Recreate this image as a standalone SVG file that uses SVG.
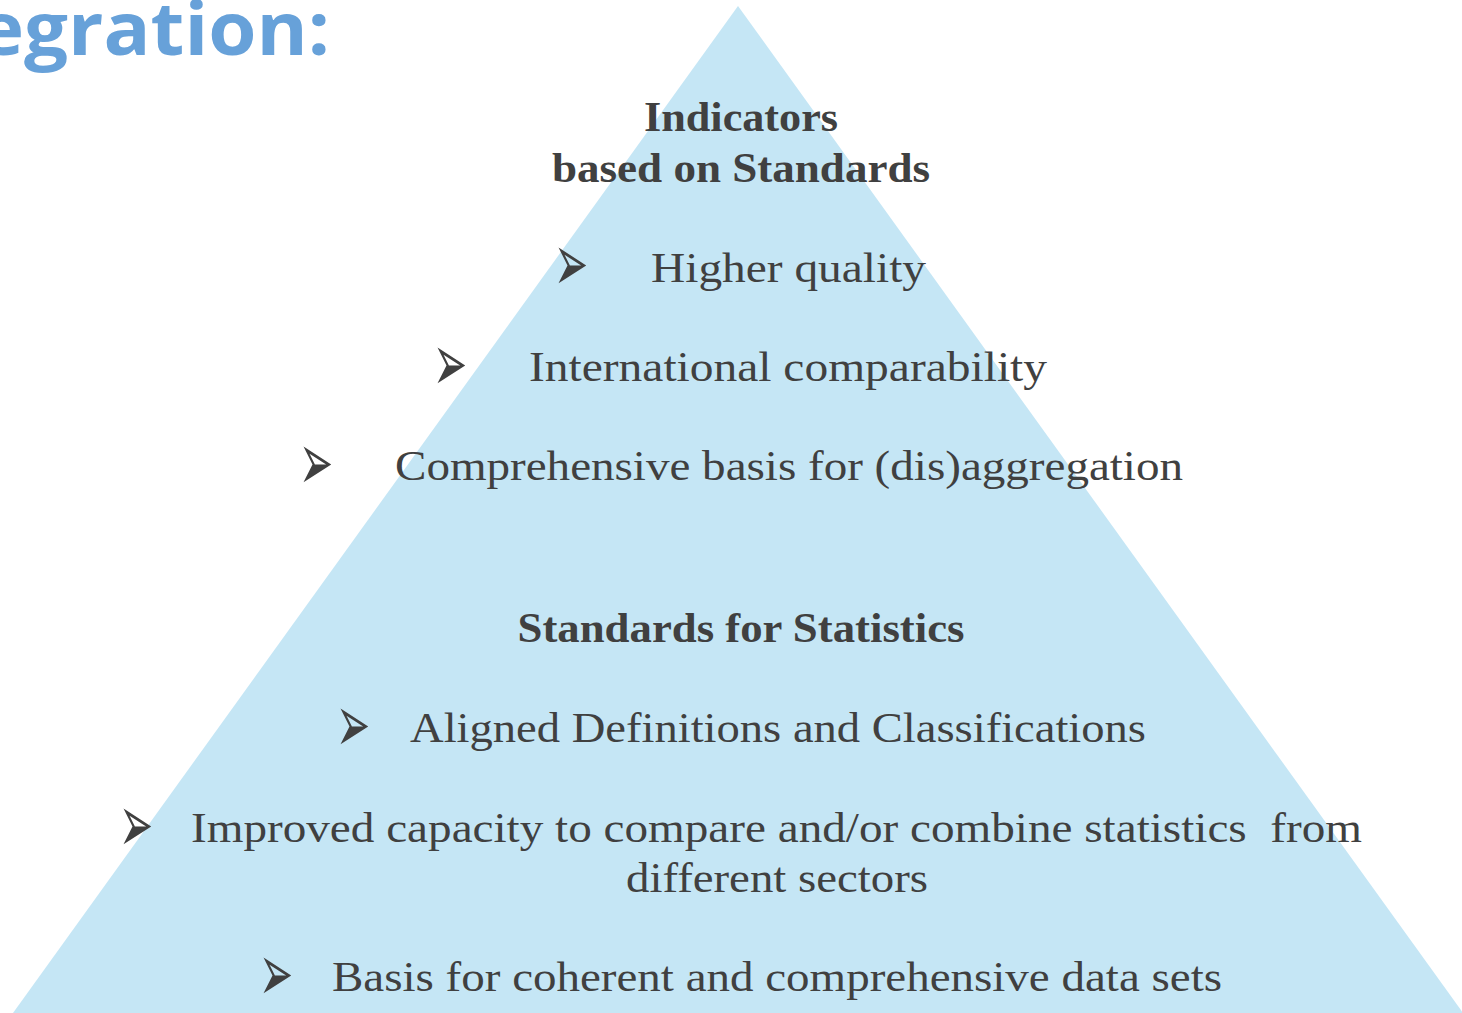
<svg xmlns="http://www.w3.org/2000/svg" width="1462" height="1013" viewBox="0 0 1462 1013">
<style>
.t{font-family:"Liberation Serif","DejaVu Serif",serif;font-size:43px;fill:#404040}
.b{font-weight:bold}
.c{text-anchor:middle}
.a{font-family:"DejaVu Sans","Noto Sans",sans-serif;font-size:34px;fill:#404040}
.title{font-family:"Open Sans","Liberation Sans",sans-serif;font-weight:700;font-size:74px;fill:#67A1D9}
</style>
<rect width="1462" height="1013" fill="#ffffff"/>
<g id="pyramid"><polygon points="738,6 1463,1013 13,1013" fill="#C5E6F5"/></g>
<g id="title"><text class="title" x="-22" y="55" textLength="352" lengthAdjust="spacingAndGlyphs">egration:</text></g>
<g id="top-heading">
<text class="t b c" x="741" y="131" textLength="194" lengthAdjust="spacingAndGlyphs">Indicators</text>
<text class="t b c" x="741" y="182" textLength="378" lengthAdjust="spacingAndGlyphs">based on Standards</text>
</g>
<g id="top-bullets">
<text class="a" transform="translate(554,267) scale(1.2,2.4)" x="0" y="10">➢</text>
<text class="t" x="651" y="282" textLength="275" lengthAdjust="spacingAndGlyphs">Higher quality</text>
<text class="a" transform="translate(433,367) scale(1.2,2.4)" x="0" y="10">➢</text>
<text class="t" x="529" y="381" textLength="518" lengthAdjust="spacingAndGlyphs">International comparability</text>
<text class="a" transform="translate(299,466) scale(1.2,2.4)" x="0" y="10">➢</text>
<text class="t" x="395" y="480" textLength="788" lengthAdjust="spacingAndGlyphs">Comprehensive basis for (dis)aggregation</text>
</g>
<g id="bottom-heading">
<text class="t b c" x="741" y="642" textLength="447" lengthAdjust="spacingAndGlyphs">Standards for Statistics</text>
</g>
<g id="bottom-bullets">
<text class="a" transform="translate(336,728) scale(1.2,2.4)" x="0" y="10">➢</text>
<text class="t" x="410" y="742" textLength="736" lengthAdjust="spacingAndGlyphs">Aligned Definitions and Classifications</text>
<text class="a" transform="translate(119,828) scale(1.2,2.4)" x="0" y="10">➢</text>
<text class="t" x="191" y="842" textLength="1171" lengthAdjust="spacingAndGlyphs" xml:space="preserve">Improved capacity to compare and/or combine statistics  from</text>
<text class="t c" x="777" y="892" textLength="302" lengthAdjust="spacingAndGlyphs">different sectors</text>
<text class="a" transform="translate(259,977) scale(1.2,2.4)" x="0" y="10">➢</text>
<text class="t" x="332" y="991" textLength="890" lengthAdjust="spacingAndGlyphs">Basis for coherent and comprehensive data sets</text>
</g>
</svg>
